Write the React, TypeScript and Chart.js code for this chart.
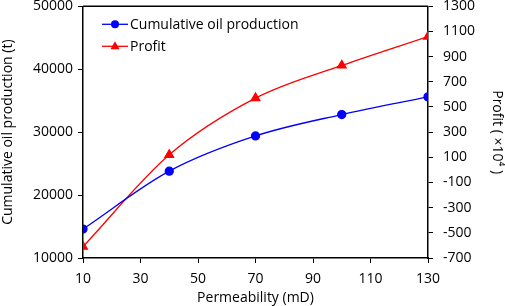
import React, { useEffect, useRef } from "react";
import { Chart, registerables } from "chart.js";

Chart.register(...registerables);

const permeability = [10, 40, 70, 100, 130];
const cumulativeOil = [14600, 23800, 29400, 32800, 35600];
const profit = [-610, 120, 570, 830, 1060];
const seriesNames = ["Cumulative oil production", "Profit"];
const xTicks = [10, 30, 50, 70, 90, 110, 130];
const yLeftTicks = [10000, 20000, 30000, 40000, 50000];
const yRightTicks = [-700, -500, -300, -100, 100, 300, 500, 700, 900, 1100, 1300];
const xTitle = "Permeability (mD)";
const yLeftTitle = "Cumulative oil production (t)";
const yRightTitle = "Profit ( ×10⁴ )";

const FONT = "'Open Sans', 'Noto Sans', sans-serif";

const framePlugin = {
  id: "frame",
  afterDraw(chart: any) {
    const { ctx, chartArea } = chart;
    ctx.save();
    ctx.strokeStyle = "#000";
    ctx.lineWidth = 1.5;
    ctx.beginPath();
    ctx.moveTo(chartArea.left, chartArea.top);
    ctx.lineTo(chartArea.right, chartArea.top);
    ctx.stroke();
    // legend
    const items = chart.data.datasets;
    ctx.font = `14px ${FONT}`;
    ctx.textBaseline = "middle";
    items.forEach((ds: any, i: number) => {
      const y = chartArea.top + 18 + i * 22;
      const x0 = chartArea.left + 19;
      const x1 = x0 + 26;
      ctx.strokeStyle = ds.borderColor;
      ctx.lineWidth = 1.3;
      ctx.beginPath();
      ctx.moveTo(x0, y);
      ctx.lineTo(x1, y);
      ctx.stroke();
      ctx.fillStyle = ds.backgroundColor;
      const cx = (x0 + x1) / 2;
      ctx.beginPath();
      if (ds.pointStyle === "triangle") {
        const r = 5;
        ctx.moveTo(cx, y - r);
        ctx.lineTo(cx + r * 0.9, y + r * 0.6);
        ctx.lineTo(cx - r * 0.9, y + r * 0.6);
        ctx.closePath();
      } else {
        ctx.arc(cx, y, 4, 0, Math.PI * 2);
      }
      ctx.fill();
      ctx.fillStyle = "#000";
      ctx.textAlign = "left";
      ctx.fillText(ds.label, x1 + 2, y + 1);
    });
    ctx.restore();
  },
};

export default function App() {
  const ref = useRef<HTMLCanvasElement>(null);
  useEffect(() => {
    document.body.style.margin = "0";
    const chart = new Chart(ref.current!, {
      type: "line",
      data: {
        datasets: [
          {
            label: seriesNames[0],
            data: permeability.map((x, i) => ({ x, y: cumulativeOil[i] })),
            borderColor: "#0000ff",
            backgroundColor: "#0000ff",
            borderWidth: 1.3,
            pointStyle: "circle",
            pointRadius: 4,
            cubicInterpolationMode: "monotone",
            yAxisID: "y",
          },
          {
            label: seriesNames[1],
            data: permeability.map((x, i) => ({ x, y: profit[i] })),
            borderColor: "#ff0000",
            backgroundColor: "#ff0000",
            borderWidth: 1.3,
            pointStyle: "triangle",
            pointRadius: 5,
            cubicInterpolationMode: "monotone",
            yAxisID: "y1",
          },
        ],
      },
      options: {
        animation: false,
        responsive: false,
        layout: { padding: { top: 5, right: 0, left: 0, bottom: 0 } },
        plugins: { legend: { display: false }, tooltip: { enabled: false } },
        scales: {
          x: {
            type: "linear",
            min: 10,
            max: 130,
            afterBuildTicks: (s: any) => {
              s.ticks = xTicks.map((v) => ({ value: v }));
            },
            afterFit: (s: any) => {
              s.height = 48;
              s.paddingLeft = 0;
              s.paddingRight = 0;
            },
            grid: { drawOnChartArea: false, drawTicks: true, tickLength: 5, color: "#000" },
            border: { display: true, color: "#000", width: 1.5 },
            ticks: { color: "#000", font: { size: 14, family: FONT }, padding: 8, maxRotation: 0 },
            title: { display: true, text: xTitle, color: "#000", font: { size: 14, family: FONT }, padding: { top: 0, bottom: 0 } },
          },
          y: {
            type: "linear",
            position: "left",
            min: 10000,
            max: 50000,
            afterBuildTicks: (s: any) => {
              s.ticks = yLeftTicks.map((v) => ({ value: v }));
            },
            afterFit: (s: any) => {
              s.width = 83;
              s.paddingTop = 0;
              s.paddingBottom = 0;
            },
            grid: { drawOnChartArea: false, drawTicks: true, tickLength: 5, color: "#000" },
            border: { display: true, color: "#000", width: 1.5 },
            ticks: { color: "#000", font: { size: 14, family: FONT }, padding: 5, callback: (v: any) => String(v) },
            title: { display: true, text: yLeftTitle, color: "#000", font: { size: 14, family: FONT }, padding: { top: 0, bottom: 0 } },
          },
          y1: {
            type: "linear",
            position: "right",
            min: -700,
            max: 1300,
            afterBuildTicks: (s: any) => {
              s.ticks = yRightTicks.map((v) => ({ value: v }));
            },
            afterFit: (s: any) => {
              s.width = 77;
              s.paddingTop = 0;
              s.paddingBottom = 0;
            },
            grid: { drawOnChartArea: false, drawTicks: true, tickLength: 5, color: "#000" },
            border: { display: true, color: "#000", width: 1.5 },
            ticks: { color: "#000", font: { size: 14, family: FONT }, padding: 10, callback: (v: any) => String(v) },
            title: { display: true, text: yRightTitle, color: "#000", font: { size: 14, family: FONT }, padding: { top: 0, bottom: 2 } },
          },
        },
      },
      plugins: [framePlugin],
    } as any);
    return () => chart.destroy();
  }, []);
  return (
    <div style={{ width: 505, height: 306 }}>
      <canvas ref={ref} width={505} height={306} style={{ width: 505, height: 306 }} />
    </div>
  );
}
